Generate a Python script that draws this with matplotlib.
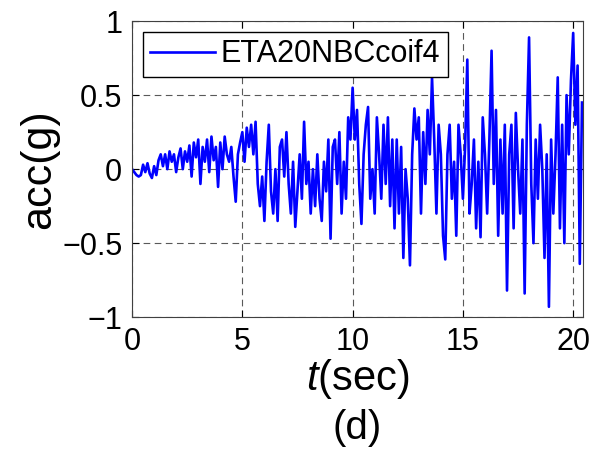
import numpy as np
import matplotlib
matplotlib.use("Agg")
from matplotlib import pyplot as plt

plt.rcParams['font.family'] = ['Liberation Sans', 'DejaVu Sans']
plt.rcParams['mathtext.fontset'] = 'custom'
plt.rcParams['mathtext.rm'] = 'Liberation Sans'
plt.rcParams['mathtext.it'] = 'Liberation Sans:italic'

dt = 0.1
acc = [
    0.0, -0.02, -0.04, -0.05, -0.04, 0.03, -0.02, 0.04, -0.03, -0.06,
    0.02, -0.04, 0.06, 0.1, 0.02, 0.1, 0.0, 0.12, 0.05, 0.1,
    -0.02, 0.08, 0.14, 0.0, 0.12, 0.05, 0.16, -0.05, 0.18, 0.08,
    0.2, -0.1, 0.15, 0.05, 0.2, -0.02, 0.22, 0.06, 0.15, -0.12,
    0.18, 0.0, 0.22, 0.1, 0.05, 0.15, -0.05, -0.22, 0.1, 0.18,
    0.25, 0.05, 0.28, 0.15, 0.3, 0.1, 0.32, -0.1, -0.25, -0.05,
    -0.35, 0.05, 0.3, -0.15, -0.3, 0.0, -0.35, 0.15, 0.2, -0.05,
    0.25, -0.1, -0.3, 0.05, -0.39, -0.15, 0.1, -0.2, 0.32, -0.1,
    0.05, -0.3, 0.0, -0.25, 0.1, -0.2, -0.35, 0.05, -0.15, 0.2,
    -0.47, 0.15, 0.2, -0.1, 0.25, -0.3, 0.05, -0.2, 0.35, 0.2,
    0.55, 0.2, 0.4, -0.1, -0.37, 0.1, 0.3, 0.42, -0.2, 0.0,
    -0.3, 0.35, 0.1, -0.2, 0.3, -0.1, 0.35, -0.25, 0.2, -0.4,
    0.2, -0.3, 0.15, -0.6, 0.0, -0.2, -0.65, 0.1, 0.41, 0.2,
    0.35, -0.3, 0.25, -0.1, 0.4, 0.1, 0.62, 0.2, -0.3, 0.3,
    0.1, -0.45, -0.61, 0.1, 0.3, -0.2, 0.05, -0.45, 0.3, 0.1,
    -0.2, 0.15, 0.74, -0.3, -0.1, 0.2, -0.4, 0.05, -0.46, 0.35,
    0.1, -0.3, 0.2, 0.8, -0.1, 0.4, -0.45, 0.2, -0.3, 0.3,
    -0.82, 0.1, 0.3, -0.4, 0.38, 0.0, -0.3, 0.2, -0.84, 0.3,
    0.89, -0.1, -0.5, 0.2, -0.2, 0.3, 0.0, -0.6, 0.1, -0.93,
    0.2, -0.3, 0.1, 0.62, -0.4, 0.3, -0.5, 0.5, 0.1, 0.6,
    0.92, 0.3, 0.7, -0.64, 0.45,
]
t = [k * dt for k in range(len(acc))]

xticks = [0, 5, 10, 15, 20]
yticks = [-1, -0.5, 0, 0.5, 1]
yticklabels = ['\u22121', '\u22120.5', '0', '0.5', '1']

fig = plt.figure(figsize=(6.03, 4.59), dpi=100)
ax = fig.add_axes([0.219, 0.309, 0.748, 0.645])

ax.plot(t, acc, color=(0, 0, 1), lw=1.9, label='ETA20NBCcoif4')

ax.set_xlim(0, 20.45)
ax.set_ylim(-1, 1)
ax.set_xticks(xticks)
ax.set_yticks(yticks)
ax.set_yticklabels(yticklabels)
ax.tick_params(direction='in', labelsize=22, top=True, right=True, length=5, width=0.8)
ax.tick_params(axis='x', pad=7)
ax.tick_params(axis='y', pad=7)
ax.grid(True, color='0.35', ls=(0, (6, 4)), lw=0.8)
for s in ax.spines.values():
    s.set_linewidth(0.8)
    s.set_color('0.25')

ax.set_xlabel(r'$t$(sec)', fontsize=30, labelpad=0)
ax.set_ylabel('acc(g)', fontsize=31, labelpad=2)
fig.text(0.5 * (0.219 + 0.967), 0.067, '(d)', fontsize=29, ha='center', va='center')

leg = ax.legend(loc='upper left', fontsize=22, fancybox=False, framealpha=1,
                edgecolor='black', borderaxespad=0.35, handlelength=2.1,
                borderpad=0.25, handletextpad=0.2)
leg.get_frame().set_linewidth(1.0)

fig.savefig('out.png', dpi=100)
